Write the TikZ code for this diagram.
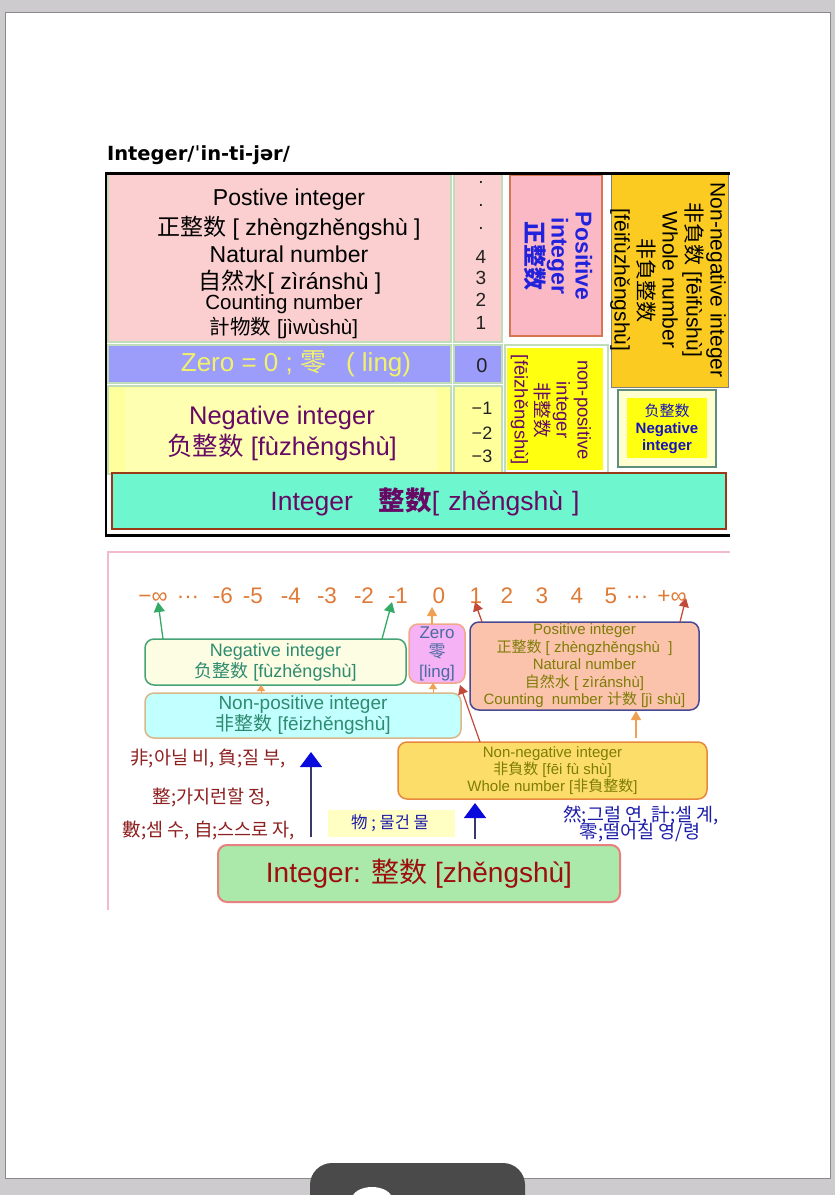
\documentclass[tikz,border=0pt]{standalone}
\usepackage{fontspec}
\setmainfont{Liberation Sans}
\newfontfamily\zhfont{Noto Sans CJK SC}
\newfontfamily\krfont{Noto Sans CJK KR}
\newfontfamily\ttlfont{DejaVu Sans}
\newcommand{\zhs}[1]{{\zhfont #1}}
\newcommand{\fsz}[2]{\fontsize{#1}{#2}\selectfont}
\usetikzlibrary{arrows.meta,calc}
\definecolor{bggray}{HTML}{CECBCE}
\definecolor{pagebd}{HTML}{8A8A8A}
\definecolor{pinkcell}{HTML}{FBCFCF}
\definecolor{cellbd}{HTML}{BFDDB8}
\definecolor{pospink}{HTML}{FBB9C5}
\definecolor{posbd}{HTML}{D67550}
\definecolor{posblue}{HTML}{2222DD}
\definecolor{goldc}{HTML}{FCCB22}
\definecolor{zeroblue}{HTML}{9C9CFA}
\definecolor{zeroyel}{HTML}{F2F26A}
\definecolor{negyel}{HTML}{FFFF9C}
\definecolor{negyelin}{HTML}{FFFFB2}
\definecolor{purp}{HTML}{660A66}
\definecolor{npyel}{HTML}{FFFF10}
\definecolor{sbbd}{HTML}{5E8E7E}
\definecolor{sbfill}{HTML}{FFFFD0}
\definecolor{sbtext}{HTML}{1515C0}
\definecolor{aqua}{HTML}{6EF7CE}
\definecolor{intbd}{HTML}{99391A}
\definecolor{darktext}{HTML}{222222}
\definecolor{framepink}{HTML}{F3BACB}
\definecolor{numor}{HTML}{E07A36}
\definecolor{grarr}{HTML}{33AA66}
\definecolor{nbfill}{HTML}{FDFDE3}
\definecolor{nbbd}{HTML}{45A375}
\definecolor{tealtx}{HTML}{2E8B70}
\definecolor{zbfill}{HTML}{F5B2F5}
\definecolor{zbbd}{HTML}{F0A888}
\definecolor{zbtext}{HTML}{4A6AA2}
\definecolor{npfill}{HTML}{C2FFFF}
\definecolor{npbd}{HTML}{D8B888}
\definecolor{pbfill}{HTML}{FCC3AC}
\definecolor{pbbd}{HTML}{4A4A92}
\definecolor{olivetx}{HTML}{7D7D05}
\definecolor{nnfill}{HTML}{FDDD6A}
\definecolor{nnbd}{HTML}{E8883E}
\definecolor{igfill}{HTML}{AAE9AA}
\definecolor{igbd}{HTML}{E88080}
\definecolor{igtext}{HTML}{9E0E0E}
\definecolor{wufill}{HTML}{FFFFC4}
\definecolor{krblue}{HTML}{1C1CAA}
\definecolor{krred}{HTML}{8E2020}
\definecolor{bluehead}{HTML}{0A0ADC}
\definecolor{blueline}{HTML}{3A3A6A}
\definecolor{redarr}{HTML}{C24A38}
\definecolor{orarr}{HTML}{F0A050}
\definecolor{pillc}{HTML}{4A4A4A}
\begin{document}
\begin{tikzpicture}[x=1pt,y=-1pt,
  every node/.style={inner sep=0pt,outer sep=0pt},
  rect/.style={draw=cellbd,line width=1.5pt},
  bbox/.style={rounded corners=9pt,line width=1.5pt,align=center},
  garrow/.style={draw=grarr,line width=1.3pt,-{Triangle[width=11pt,length=10pt,color=grarr]}},
  oarrow/.style={draw=orarr,line width=1.3pt,-{Triangle[width=10pt,length=9pt,color=orarr]}},
  rarrow/.style={draw=redarr,line width=1.3pt,-{Triangle[width=10pt,length=9pt,color=redarr]}},
  barrow/.style={draw=blueline,line width=1.3pt,-{Triangle[width=22pt,length=15pt,color=bluehead]}},
  numtxt/.style={anchor=base,font=\fsz{22.5}{26},text=numor},
  kortxt/.style={font=\krfont\fsz{18.5}{21}}
]
\useasboundingbox (0,0) rectangle (835,1195);
\fill[bggray] (0,0) rectangle (835,1195);
\filldraw[fill=white,draw=pagebd,line width=1pt] (5,12) rectangle (830,1178);

% title
\node[anchor=base west,font=\ttlfont\bfseries\fsz{19.5}{22}] (title) at (107,160) {Integer/ˈin-ti-jər/};

% ---------- top table ----------
\node[rect,fill=pinkcell,minimum width=343pt,minimum height=168pt] (pcell) at (279.5,258) {};
\node[font=\fsz{23}{27}] (p1) at (289,200) {Postive integer};
\node[font=\fsz{23}{27}] (p2) at (289,228) {\zhs{正整数} [ zhèngzhěngshù ]};
\node[font=\fsz{23}{27}] (p3) at (289,254) {Natural number};
\node[font=\fsz{23}{27}] (p4) at (290,282) {\zhs{自然水}[ zìránshù ]};
\node[font=\fsz{20.5}{24}] (p5) at (284,304) {Counting number};
\node[font=\fsz{20.5}{24}] (p6) at (284,328) {\zhs{計物数} [jìwùshù]};

\node[rect,fill=pinkcell,minimum width=48pt,minimum height=168pt] (ncell) at (478,258) {};
\foreach \yy/\nm in {182/da,205/db,228/dc}
  \node[font=\fsz{19}{22},text=darktext] (\nm) at (481,\yy) {.};
\foreach \yy/\nm/\tx in {257/d4/4,278/d3/3,300/d2/2,323/d1/1}
  \node[font=\fsz{19}{22},text=darktext] (\nm) at (481,\yy) {\tx};

\node[rect,fill=zeroblue,minimum width=343pt,minimum height=38pt] (zcell) at (279.5,364) {};
\node[font=\fsz{26}{28},text=zeroyel] (ztxt) at (296,364) {Zero = 0 ; \zhs{零}\hspace{20pt}( ling)};
\node[rect,fill=zeroblue,minimum width=48pt,minimum height=38pt] (zncell) at (478,364) {};
\node[font=\fsz{20}{24},text=darktext] (zn) at (482,366) {0};

\node[rect,fill=negyel,minimum width=343pt,minimum height=88pt] (negrow) at (279.5,430) {};
\node[fill=negyelin,minimum width=312pt,minimum height=83pt] (negin) at (281,429.5) {};
\node[font=\fsz{25.5}{28},text=purp] (ng1) at (282,418) {Negative integer};
\node[font=\fsz{25.5}{28},text=purp] (ng2) at (282,447) {\zhs{负整数} [fùzhěngshù]};
\node[rect,fill=negyel,minimum width=48pt,minimum height=88pt] (nncell) at (478,430) {};
\foreach \yy/\nm/\tx in {408/e1/−1,433/e2/−2,456/e3/−3}
  \node[font=\fsz{18}{22},text=darktext] (\nm) at (482,\yy) {\tx};

\node[draw=posbd,line width=2pt,fill=pospink,minimum width=92pt,minimum height=161pt] (posbox) at (556,255.5) {};
\node[rotate=-90,align=center,font=\bfseries\fsz{23}{24},text=posblue] (postxt) at (558,256) {Positive\\integer\\{\zhfont\bfseries 正整数}};

\node[draw=gray,line width=0.8pt,fill=goldc,minimum width=117pt,minimum height=214pt] (nnbox) at (669.5,280) {};
\node[rotate=-90,align=center,font=\fsz{21}{24}] (nntxt) at (668,280) {Non-negative integer\\\zhs{非負数} [fēifùshù]\\Whole number\\\zhs{非負整数}\\{[}fēifùzhěngshù]};

\node[draw=cellbd,line width=1.5pt,fill=white,minimum width=103pt,minimum height=128pt] (npouter) at (556.5,409) {};
\node[fill=npyel,minimum width=96pt,minimum height=122pt] (npinner) at (555,409) {};
\node[rotate=-90,align=center,font=\fsz{18.5}{21},text=purp] (nptxt) at (551,410) {non-positive\\integer\\\zhs{非整数}\\{[}fēizhěngshù]};

\node[draw=sbbd,line width=2.5pt,fill=sbfill,minimum width=98pt,minimum height=77pt] (sbox) at (667,428.5) {};
\node[fill=npyel,minimum width=80pt,minimum height=60pt] (sboxin) at (667,428) {};
\node[align=center,font=\fsz{15}{17},text=sbtext] (sbtxt) at (667,429) {\zhs{负整数}\\\textbf{Negative}\\\textbf{integer}};

\node[draw=intbd,line width=2pt,fill=aqua,minimum width=614pt,minimum height=56pt] (intbar) at (419,501) {};
\node[font=\fsz{26.5}{28},text=purp] (inttxt) at (425,502) {Integer\hspace{26pt}{\zhfont\bfseries 整数}[\hspace{9pt}zhěngshù\hspace{9pt}]};

\draw[line width=3pt] (105,173) -- (730,173);
\draw[line width=3pt] (105,535) -- (730,535);
\draw[line width=1.5pt] (106,173) -- (106,535);

% ---------- bottom diagram ----------
\draw[framepink,line width=1.5pt] (730,552) -- (108,552) -- (108,910);

\node[numtxt] (minf) at (153,603) {−∞};
\node[numtxt] (dl) at (188,603) {···};
\node[numtxt] (m6) at (223,603) {-6};
\node[numtxt] (m5) at (253,603) {-5};
\node[numtxt] (m4) at (291,603) {-4};
\node[numtxt] (m3) at (327,603) {-3};
\node[numtxt] (m2) at (364,603) {-2};
\node[numtxt] (m1) at (398,603) {-1};
\node[numtxt] (z0) at (439,603) {0};
\node[numtxt] (q1) at (476,603) {1};
\node[numtxt] (q2) at (507,603) {2};
\node[numtxt] (q3) at (542,603) {3};
\node[numtxt] (q4) at (577,603) {4};
\node[numtxt] (q5) at (611,603) {5};
\node[numtxt] (dr) at (637,603) {···};
\node[numtxt] (pinf) at (672,603) {+∞};

\node[bbox,draw=nbbd,fill=nbfill,text=tealtx,minimum width=261pt,minimum height=46pt,font=\fsz{18}{21}] (negb) at (275.5,662) {Negative integer\\\zhs{负整数} [fùzhěngshù]};
\node[bbox,draw=zbbd,fill=zbfill,text=zbtext,minimum width=56pt,minimum height=59pt,font=\fsz{17}{19.5}] (zerob) at (437,653.5) {Zero\\\zhs{零}\\{[}ling]};
\node[bbox,draw=npbd,fill=npfill,text=tealtx,minimum width=316pt,minimum height=45pt,font=\fsz{19}{21}] (npb) at (303,715.5) {Non-positive integer\\\zhs{非整数} [fēizhěngshù]};
\node[bbox,draw=pbbd,fill=pbfill,text=olivetx,minimum width=229pt,minimum height=88pt,font=\fsz{15}{17.5}] (posb) at (584.5,666) {Positive integer\\\zhs{正整数} [ zhèngzhěngshù\ \ ]\\Natural number\\\zhs{自然水} [ zìránshù]\\Counting\ \ number \zhs{计数} [jì shù]};
\node[bbox,draw=nnbd,fill=nnfill,text=olivetx,minimum width=309pt,minimum height=57pt,font=\fsz{15}{17}] (nnb) at (552.5,770.5) {Non-negative integer\\\zhs{非負数} [fēi fù shù]\\Whole number [\zhs{非負整数}]};
\node[bbox,draw=igbd,line width=2pt,fill=igfill,text=igtext,minimum width=402pt,minimum height=57pt,font=\fsz{28}{30}] (intb) at (419,873.5) {Integer: \zhs{整数} [zhěngshù]};
\node[fill=wufill,minimum width=127pt,minimum height=27pt] (wub) at (391.5,823.5) {};
\node[font=\krfont\fsz{16.5}{18},text=krblue] (wutxt) at (390,823) {物 ; 물건 물};

\node[kortxt,text=krred] (kl1) at (208,758) {非;아닐 비, 負;질 부,};
\node[kortxt,text=krred] (kl2) at (212,797) {整;가지런할 정,};
\node[kortxt,text=krred] (kl3) at (209,830) {數;셈 수, 自;스스로 자,};
\node[kortxt,text=krblue] (kr1) at (641,815) {然;그럴 연, 計;셀 계,};
\node[kortxt,text=krblue] (kr2) at (640,833) {零;떨어질 영/령};

% arrows
\draw[garrow] ($(negb.north west)+(18,0)$) -- ($(minf.base)+(5,-1)$);
\draw[garrow] ($(negb.north east)+(-24,0)$) -- ($(m1.base)+(-6,-1)$);
\draw[oarrow] ($(zerob.north)+(-5,0)$) -- ($(z0.base)+(-7,4)$);
\draw[rarrow] ($(posb.north west)+(12,0)$) -- ($(q1.base)+(-1,-1)$);
\draw[rarrow] ($(posb.north east)+(-19,0)$) -- ($(pinf.base)+(14,-5)$);
\draw[oarrow] ($(nnb.north)+(83.5,-4)$) -- ($(posb.south)+(51.5,1)$);
\draw[oarrow,line width=1pt,-{Triangle[width=8pt,length=6pt,color=orarr]}] ($(npb.north)+(-42,0)$) -- ($(negb.south)+(-14.5,0)$);
\draw[oarrow,line width=1pt,-{Triangle[width=8pt,length=6pt,color=orarr]}] ($(npb.north)+(130,0)$) -- ($(zerob.south)+(-4,0)$);
\draw[rarrow,line width=1.2pt] ($(nnb.north west)+(82,0)$) -- ($(zerob.south east)+(-5,2)$);
\draw[barrow] ($(intb.north west)+(93,-8)$) -- ($(npb.south)+(8,14)$);
\draw[barrow] ($(intb.north)+(56,-6)$) -- ($(nnb.south)+(-77.5,4)$);

% viewer bar
\begin{scope}
\clip (0,0) rectangle (835,1195);
\fill[pillc] (310,1200) [rounded corners=22pt] -- (310,1163) -- (525,1163) [sharp corners] -- (525,1200) -- cycle;
\fill[white] (372,1199) ellipse [x radius=20, y radius=12];
\end{scope}
\end{tikzpicture}
\end{document}
